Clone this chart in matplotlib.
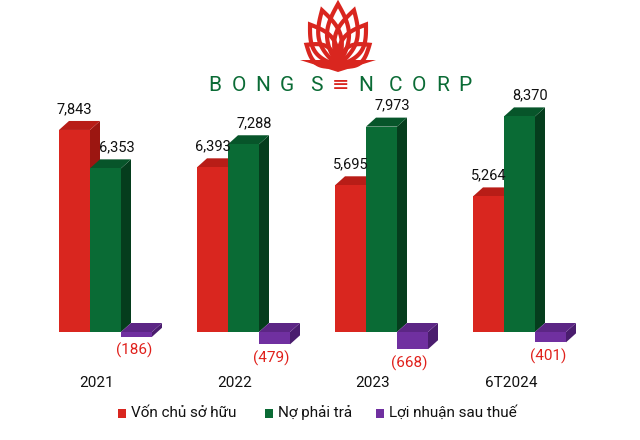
import numpy as np
import matplotlib.pyplot as plt
from matplotlib.patches import Polygon, Rectangle

years = ['2021', '2022', '2023', '6T2024']
von_csh = [7843, 6393, 5695, 5264]
no_phai_tra = [6353, 7288, 7973, 8370]
loi_nhuan = [-186, -479, -668, -401]
series = [von_csh, no_phai_tra, loi_nhuan]
names = ['Vốn chủ sở hữu', 'Nợ phải trả', 'Lợi nhuận sau thuế']
front = ['#d9261f', '#0a6b35', '#7030a0']
side = ['#9c1611', '#053d1d', '#4a1d6e']
top = ['#b81d17', '#07552a', '#5c2685']

plt.rcParams['font.family'] = ['Roboto', 'DejaVu Sans']
fig = plt.figure(figsize=(6.4, 4.4), dpi=100)
ax = fig.add_axes([0, 0, 1, 1])
PX_X = 138.0  # pixels per group
PX_Y = 0.02576  # pixels per unit
ax.set_xlim(-90 / PX_X, 550 / PX_X)
ax.set_ylim(-108 / PX_Y, 332 / PX_Y)
ax.axis('off')

w = 31 / PX_X
dx = 10 / PX_X
dy = 9 / PX_Y

for i in range(len(years)):
    for k, vals in enumerate(series):
        v = vals[i]
        x0 = i + (k - 1) * w
        hi = max(v, 0)
        lo = min(v, 0)
        ax.add_patch(Polygon([(x0 + w, lo), (x0 + w + dx, lo + dy), (x0 + w + dx, hi + dy), (x0 + w, hi)],
                             closed=True, color=side[k], lw=0))
        ax.add_patch(Polygon([(x0, hi), (x0 + dx, hi + dy), (x0 + w + dx, hi + dy), (x0 + w, hi)],
                             closed=True, color=top[k], lw=0))
        ax.bar(x0, hi - lo, bottom=lo, width=w, align='edge', color=front[k], lw=0)
        if v >= 0:
            off = 0 if k == 0 else dx * 1.1
            ax.text(x0 + w / 2 + off, v + dy + 5 / PX_Y, f'{v:,}', ha='center', va='bottom',
                    fontsize=10.5, color='#111111')
        else:
            ax.text(x0 + w / 2 - 0.02, v - 6 / PX_Y, f'({-v:,})', ha='center', va='top',
                    fontsize=11, color='#e0201b')
    ax.text(i + 7 / PX_X, -51 / PX_Y, years[i], ha='center', va='center', fontsize=11, color='#111111')

# logo
cx, cy = 248 / PX_X, (332 - 66) / PX_Y
for ang, ln, wd in [(0, 62, 11), (16, 58, 11), (-16, 58, 11), (34, 50, 11), (-34, 50, 11),
                    (56, 38, 10), (-56, 38, 10)]:
    a = np.radians(ang)
    t = np.linspace(0, np.pi, 30)
    xs = np.concatenate([np.sin(t) * wd, -np.sin(t[::-1]) * wd])
    ys = np.concatenate([t / np.pi * ln, t[::-1] / np.pi * ln])
    xr = xs * np.cos(a) + ys * np.sin(a)
    yr = -xs * np.sin(a) + ys * np.cos(a)
    ax.add_patch(Polygon(list(zip(cx + xr / PX_X, cy + yr / PX_Y)), closed=True,
                         fc='none', ec='#d9261f', lw=3))
ax.add_patch(Polygon([(cx - 38 / PX_X, cy + 6 / PX_Y), (cx + 38 / PX_X, cy + 6 / PX_Y),
                      (cx, cy - 6 / PX_Y)], closed=True, color='#d9261f', lw=0))
letters = 'BONGSENCORP'
lx = [215, 239, 263, 287, 316, 341, 366, 395, 419, 443, 465]
for ch, x in zip(letters, lx):
    ax.text((x - 90) / PX_X, (332 - 85) / PX_Y, '≡' if ch == 'E' else ch, ha='center', va='center',
            fontsize=15, color='#d9261f' if ch == 'E' else '#0a6b35')

# legend
lg = [(118, names[0]), (265, names[1]), (376, names[2])]
for k, (x, t) in enumerate(lg):
    ax.add_patch(Rectangle(((x - 90) / PX_X, (332 - 418) / PX_Y), 8 / PX_X, 9 / PX_Y, color=front[k], lw=0))
    ax.text((x - 90 + 13) / PX_X, (332 - 413) / PX_Y, t, va='center', fontsize=11, color='#111111')

fig.savefig('out.png', dpi=100)
